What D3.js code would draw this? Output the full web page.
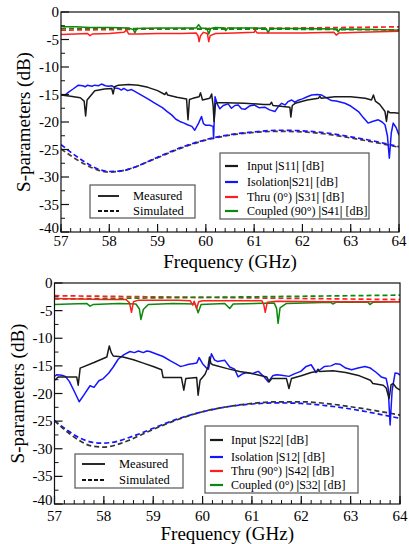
<!DOCTYPE html>
<html>
<head>
<meta charset="utf-8">
<script src="https://cdn.jsdelivr.net/npm/d3@7"></script>
<style>
  body { margin: 0; background: #fff; }
  svg text { font-family: "Liberation Serif", "DejaVu Serif", "Times New Roman", serif; }
</style>
</head>
<body>
<div id="chart"></div>
<script>
// Axis ticks
var freqTicks = [57, 58, 59, 60, 61, 62, 63, 64];
var dbTicks = [0, -5, -10, -15, -20, -25, -30, -35, -40];

// ---- Top panel (port 1 excitation) ----
var topS11Meas = [[57.0,-15.1],[57.2,-15.3],[57.4,-15.6],[57.48,-16.2],[57.51,-18.9],[57.54,-16.0],[57.7,-14.3],[57.9,-14.0],[58.05,-13.9],[58.08,-14.9],[58.11,-13.6],[58.19,-13.3],[58.4,-13.2],[58.6,-13.3],[58.8,-13.7],[59.0,-14.3],[59.15,-15.0],[59.18,-14.6],[59.21,-15.1],[59.4,-15.5],[59.6,-15.8],[59.63,-19.6],[59.66,-15.9],[59.73,-15.7],[59.86,-15.4],[59.89,-14.7],[59.93,-16.0],[60.08,-15.7],[60.12,-14.9],[60.15,-17.0],[60.17,-19.9],[60.2,-16.6],[60.25,-16.5],[60.4,-16.5],[60.8,-16.6],[61.2,-16.8],[61.33,-16.8],[61.36,-16.4],[61.39,-17.0],[61.5,-17.1],[61.74,-17.3],[61.76,-19.1],[61.79,-17.0],[61.85,-16.6],[62.1,-16.0],[62.33,-15.7],[62.36,-15.3],[62.39,-15.7],[62.67,-15.4],[63.0,-15.4],[63.3,-15.7],[63.43,-16.0],[63.47,-15.1],[63.51,-16.2],[63.6,-16.8],[63.71,-18.1],[63.74,-19.9],[63.77,-18.0],[63.81,-18.3],[63.9,-18.3],[64.0,-18.4]];
var topS21Meas = [[57.0,-15.1],[57.1,-15.0],[57.15,-14.6],[57.25,-14.0],[57.36,-13.3],[57.45,-13.4],[57.5,-13.6],[57.55,-13.3],[57.64,-13.5],[57.7,-13.3],[57.78,-13.4],[57.84,-13.1],[57.92,-13.4],[57.98,-13.5],[58.05,-13.4],[58.12,-13.8],[58.19,-13.9],[58.25,-14.2],[58.3,-13.9],[58.38,-14.3],[58.46,-14.1],[58.52,-14.4],[58.6,-14.8],[58.7,-15.3],[58.8,-15.8],[58.95,-16.6],[59.1,-17.4],[59.2,-18.1],[59.29,-18.7],[59.38,-19.5],[59.46,-19.9],[59.55,-20.2],[59.62,-20.5],[59.71,-20.8],[59.77,-21.5],[59.85,-20.2],[59.91,-19.0],[59.95,-20.3],[60.0,-20.6],[60.08,-20.6],[60.15,-20.8],[60.16,-23.0],[60.19,-15.4],[60.24,-16.8],[60.29,-17.6],[60.36,-17.0],[60.46,-16.7],[60.53,-17.5],[60.6,-17.0],[60.67,-16.9],[60.74,-17.6],[60.81,-17.7],[60.9,-17.1],[61.0,-16.9],[61.1,-17.4],[61.22,-17.3],[61.32,-17.8],[61.43,-18.1],[61.5,-17.2],[61.57,-16.6],[61.64,-16.9],[61.7,-16.3],[61.78,-16.0],[61.84,-16.4],[61.9,-16.1],[62.0,-15.8],[62.1,-15.4],[62.19,-15.1],[62.3,-15.0],[62.4,-15.1],[62.5,-15.6],[62.6,-16.1],[62.7,-16.2],[62.88,-16.6],[63.0,-17.1],[63.16,-18.1],[63.26,-19.2],[63.36,-20.2],[63.45,-19.9],[63.57,-19.6],[63.65,-20.0],[63.71,-20.5],[63.76,-22.5],[63.8,-26.6],[63.84,-22.0],[63.88,-20.2],[63.94,-21.0],[64.0,-22.4]];
var topS31Meas = [[57.0,-4.1],[57.3,-4.0],[57.55,-3.9],[57.6,-4.3],[57.65,-4.0],[58.0,-3.9],[58.3,-3.7],[58.36,-3.3],[58.4,-4.0],[58.6,-4.0],[59.0,-3.9],[59.5,-3.9],[59.8,-3.8],[59.84,-4.4],[59.86,-5.4],[59.89,-4.3],[59.95,-3.7],[60.03,-3.9],[60.06,-5.4],[60.09,-4.3],[60.2,-3.9],[60.6,-3.8],[61.0,-3.7],[61.02,-3.3],[61.06,-3.8],[61.5,-3.8],[62.0,-3.8],[62.65,-3.7],[62.7,-4.2],[62.76,-3.8],[63.2,-3.7],[63.6,-3.6],[64.0,-3.5]];
var topS41Meas = [[57.0,-2.5],[57.05,-2.7],[57.3,-2.7],[57.6,-2.8],[58.0,-2.8],[58.4,-2.9],[58.5,-3.2],[58.53,-3.8],[58.57,-3.0],[59.0,-2.9],[59.5,-2.9],[59.8,-2.9],[59.85,-2.3],[59.9,-2.9],[60.02,-3.0],[60.06,-4.0],[60.1,-3.0],[60.2,-2.8],[60.38,-2.9],[60.41,-3.4],[60.45,-2.9],[61.0,-2.9],[61.25,-3.0],[61.29,-3.8],[61.33,-3.0],[62.0,-3.0],[62.7,-3.1],[62.74,-3.6],[62.78,-3.1],[63.5,-3.2],[64.0,-3.3]];
var topS11Sim = [[57,-24.9],[57.25,-26.4],[57.5,-27.7],[57.75,-28.7],[58,-29.1],[58.25,-28.9],[58.5,-28.3],[58.75,-27.4],[59,-26.5],[59.5,-24.7],[60,-23.3],[60.5,-22.4],[61,-21.9],[61.5,-21.7],[62,-21.8],[62.5,-22.2],[63,-22.9],[63.5,-23.7],[64,-24.6]];
var topS21Sim = [[57,-24.1],[57.25,-25.8],[57.5,-27.3],[57.75,-28.5],[58,-29.0],[58.25,-28.9],[58.5,-28.3],[58.75,-27.4],[59,-26.4],[59.5,-24.6],[60,-23.2],[60.5,-22.3],[61,-21.8],[61.5,-21.5],[62,-21.6],[62.5,-22.0],[63,-22.7],[63.5,-23.5],[64,-24.5]];
var topS31Sim = [[57,-3.3],[58,-3.2],[59,-3.1],[60,-3.0],[61,-2.95],[62,-2.9],[63,-2.8],[64,-2.7]];
var topS41Sim = [[57,-3.0],[58,-3.0],[59,-3.05],[60,-3.1],[61,-3.1],[62,-3.15],[63,-3.2],[64,-3.25]];
var topLabels = ["Input |S11| [dB]", "Isolation|S21| [dB]", "Thru (0°) |S31| [dB]", "Coupled (90°) |S41| [dB]"];

// ---- Bottom panel (port 2 excitation) ----
var botS22Meas = [[57.0,-17.6],[57.08,-17.0],[57.3,-17.0],[57.45,-17.0],[57.48,-18.5],[57.52,-15.4],[57.8,-14.4],[58.06,-13.4],[58.11,-11.4],[58.15,-12.6],[58.19,-13.2],[58.39,-13.4],[58.6,-13.9],[58.8,-14.5],[59.0,-15.1],[59.17,-15.7],[59.2,-17.1],[59.4,-17.1],[59.57,-17.1],[59.62,-19.4],[59.66,-17.3],[59.88,-17.1],[59.91,-20.3],[59.95,-17.6],[60.05,-16.5],[60.11,-15.2],[60.14,-13.4],[60.17,-14.6],[60.21,-14.8],[60.5,-15.5],[60.75,-16.0],[61.0,-16.4],[61.3,-17.0],[61.35,-17.9],[61.4,-17.3],[61.7,-17.3],[61.75,-19.1],[61.8,-17.3],[62.0,-16.8],[62.2,-16.2],[62.31,-16.0],[62.34,-15.6],[62.37,-16.0],[62.64,-15.9],[62.9,-16.2],[63.18,-16.8],[63.4,-17.6],[63.45,-18.2],[63.66,-18.5],[63.72,-19.0],[63.78,-20.9],[63.82,-18.4],[63.86,-18.2],[63.93,-19.0],[64.0,-19.4]];
var botS12Meas = [[57.0,-16.9],[57.05,-16.6],[57.15,-16.7],[57.22,-16.9],[57.3,-17.8],[57.4,-19.6],[57.5,-21.5],[57.6,-20.2],[57.72,-18.6],[57.8,-18.9],[57.9,-17.7],[57.99,-17.3],[58.1,-16.3],[58.19,-15.2],[58.29,-13.8],[58.4,-13.0],[58.53,-12.4],[58.62,-12.6],[58.7,-12.3],[58.8,-12.6],[58.87,-12.3],[58.93,-12.4],[59.05,-12.8],[59.2,-13.3],[59.35,-14.1],[59.47,-14.7],[59.55,-15.1],[59.61,-15.0],[59.72,-14.7],[59.8,-14.6],[59.88,-14.5],[59.93,-13.5],[60.0,-14.6],[60.08,-15.4],[60.12,-15.6],[60.18,-12.8],[60.24,-13.9],[60.3,-14.2],[60.45,-14.0],[60.55,-15.2],[60.65,-15.6],[60.72,-17.0],[60.8,-16.5],[60.89,-16.2],[61.0,-16.4],[61.13,-16.0],[61.25,-17.0],[61.33,-17.9],[61.42,-16.8],[61.5,-16.6],[61.6,-16.7],[61.75,-16.9],[61.87,-16.4],[61.99,-16.0],[62.1,-15.1],[62.2,-14.8],[62.3,-16.2],[62.38,-15.7],[62.47,-15.1],[62.6,-15.0],[62.7,-14.6],[62.78,-14.7],[62.9,-15.4],[63.02,-15.7],[63.15,-15.4],[63.29,-15.1],[63.4,-15.4],[63.52,-16.2],[63.62,-17.0],[63.72,-17.3],[63.76,-19.0],[63.8,-25.7],[63.84,-19.5],[63.9,-16.3],[63.96,-16.4],[64.0,-16.7]];
var botS42Meas = [[57.0,-2.8],[57.5,-2.9],[58.0,-3.0],[58.45,-3.0],[58.52,-3.6],[58.56,-5.3],[58.6,-3.4],[58.7,-3.1],[59.5,-3.1],[59.75,-3.2],[59.8,-4.0],[59.83,-3.3],[59.88,-4.6],[59.92,-3.4],[60.0,-3.2],[60.5,-3.2],[61.2,-3.2],[61.24,-3.9],[61.27,-5.3],[61.31,-3.5],[61.5,-3.3],[62.5,-3.4],[63.5,-3.4],[64.0,-3.4]];
var botS32Meas = [[57.0,-3.9],[57.3,-3.8],[57.65,-3.7],[57.72,-4.2],[57.78,-3.9],[58.3,-3.7],[58.65,-3.8],[58.72,-4.7],[58.75,-6.6],[58.8,-4.8],[58.9,-3.9],[59.4,-3.7],[59.85,-3.8],[59.91,-5.4],[59.97,-3.9],[60.45,-3.7],[60.55,-4.6],[60.62,-3.8],[61.45,-3.6],[61.5,-4.6],[61.53,-7.3],[61.57,-4.5],[61.7,-3.7],[62.6,-3.5],[62.64,-3.8],[62.7,-3.5],[63.35,-3.5],[63.39,-3.9],[63.45,-3.5],[64.0,-3.4]];
var botS22Sim = [[57,-24.9],[57.25,-26.9],[57.5,-28.5],[57.75,-29.5],[58,-29.7],[58.25,-29.3],[58.5,-28.5],[58.75,-27.5],[59,-26.5],[59.5,-24.7],[60,-23.3],[60.5,-22.4],[61,-21.8],[61.5,-21.5],[62,-21.5],[62.5,-21.8],[63,-22.4],[63.5,-23.1],[64,-23.9]];
var botS12Sim = [[57,-24.9],[57.25,-26.6],[57.5,-28.0],[57.75,-28.8],[57.95,-29.0],[58.25,-28.7],[58.5,-28.0],[58.75,-27.2],[59,-26.3],[59.5,-24.6],[60,-23.3],[60.5,-22.4],[61,-21.9],[61.5,-21.7],[62,-21.8],[62.5,-22.2],[63,-22.8],[63.5,-23.6],[64,-24.5]];
var botS42Sim = [[57,-2.3],[58,-2.4],[59,-2.5],[60,-2.6],[61,-2.7],[62,-2.8],[63,-2.9],[64,-3.0]];
var botS32Sim = [[57,-2.9],[58,-2.8],[59,-2.7],[60,-2.6],[61,-2.5],[62,-2.4],[63,-2.3],[64,-2.2]];
var botLabels = ["Input |S22| [dB]", "Isolation |S12| [dB]", "Thru (90°) |S42| [dB]", "Coupled (0°) |S32| [dB]"];

var black = "#1a1a1a", blue = "#1414ff", red = "#ff1e1e", green = "#0a8a0a";
var fontFam = "'Liberation Serif', 'DejaVu Serif', 'Times New Roman', serif";

var svg = d3.select("#chart").append("svg")
  .attr("width", 409)
  .attr("height", 544)
  .attr("font-family", fontFam);

var panels = [
  {
    left: 61, right: 399, top: 12, bottom: 232,
    meas: [[topS41Meas, green], [topS31Meas, red], [topS21Meas, blue], [topS11Meas, black]],
    sim: [[topS31Sim, red], [topS41Sim, green], [topS11Sim, "#573631"], [topS21Sim, blue]],
    labels: topLabels,
    legend: { x: 220, y: 153, w: 149, h: 66, rows: [166, 182, 197, 211], lx: 225, tx: 247 },
    msLegend: { x: 90, y: 185, w: 105, h: 33, rows: [196, 211], lx0: 98, lx1: 119, tx: 133 },
    ylabX: 30, xTickY: 246, xTitleY: 268
  },
  {
    left: 54.5, right: 400, top: 283, bottom: 504,
    meas: [[botS32Meas, green], [botS42Meas, red], [botS12Meas, blue], [botS22Meas, black]],
    sim: [[botS42Sim, red], [botS32Sim, green], [botS12Sim, blue], [botS22Sim, "#333"]],
    labels: botLabels,
    legend: { x: 205, y: 426, w: 153, h: 67, rows: [440, 457, 471, 485], lx: 210, tx: 231 },
    msLegend: { x: 75, y: 454, w: 108, h: 34, rows: [464, 480], lx0: 82, lx1: 105, tx: 119 },
    ylabX: 24, xTickY: 521, xTitleY: 540
  }
];

panels.forEach(function(p) {
  var x = d3.scaleLinear().domain([57, 64]).range([p.left, p.right]);
  var y = d3.scaleLinear().domain([-40, 0]).range([p.bottom, p.top]);

  var g = svg.append("g");
  var clipId = "clip" + p.top;
  g.append("clipPath").attr("id", clipId)
    .append("rect")
    .attr("x", p.left).attr("y", p.top)
    .attr("width", p.right - p.left).attr("height", p.bottom - p.top);

  var line = d3.line().x(d => x(d[0])).y(d => y(d[1]));
  var smooth = d3.line().x(d => x(d[0])).y(d => y(d[1])).curve(d3.curveMonotoneX);

  var curves = g.append("g").attr("clip-path", "url(#" + clipId + ")");

  // simulated (dashed)
  p.sim.forEach(function(s) {
    curves.append("path")
      .datum(s[0])
      .attr("d", smooth)
      .attr("fill", "none")
      .attr("stroke", s[1])
      .attr("stroke-width", 1.7)
      .attr("stroke-dasharray", "5,3");
  });

  // measured (solid)
  p.meas.forEach(function(s) {
    curves.append("path")
      .datum(s[0])
      .attr("d", line)
      .attr("fill", "none")
      .attr("stroke", s[1])
      .attr("stroke-width", 1.5)
      .attr("stroke-linejoin", "round");
  });

  // frame
  g.append("rect")
    .attr("x", p.left).attr("y", p.top)
    .attr("width", p.right - p.left).attr("height", p.bottom - p.top)
    .attr("fill", "none").attr("stroke", "#111").attr("stroke-width", 1.2);

  // x axis ticks (inward)
  var xMinor = d3.range(57, 64.001, 0.2);
  g.selectAll(".xmin").data(xMinor).enter().append("line")
    .attr("x1", d => x(d)).attr("x2", d => x(d))
    .attr("y1", p.bottom).attr("y2", p.bottom - 4)
    .attr("stroke", "#111").attr("stroke-width", 1);
  g.selectAll(".xmaj").data(freqTicks).enter().append("line")
    .attr("x1", d => x(d)).attr("x2", d => x(d))
    .attr("y1", p.bottom).attr("y2", p.bottom - 8)
    .attr("stroke", "#111").attr("stroke-width", 1.2);
  g.selectAll(".xlab").data(freqTicks).enter().append("text")
    .attr("x", d => x(d)).attr("y", p.xTickY)
    .attr("text-anchor", "middle")
    .attr("font-size", 15)
    .text(d => d);

  // y axis ticks (inward)
  var yMinor = d3.range(-37.5, 0, 5);
  g.selectAll(".ymin").data(yMinor).enter().append("line")
    .attr("x1", p.left).attr("x2", p.left + 4)
    .attr("y1", d => y(d)).attr("y2", d => y(d))
    .attr("stroke", "#111").attr("stroke-width", 1);
  g.selectAll(".ymaj").data(dbTicks).enter().append("line")
    .attr("x1", p.left).attr("x2", p.left + 8)
    .attr("y1", d => y(d)).attr("y2", d => y(d))
    .attr("stroke", "#111").attr("stroke-width", 1.2);
  g.selectAll(".ylab").data(dbTicks).enter().append("text")
    .attr("x", p.left - 2).attr("y", d => y(d) + (d === -40 ? 1 : 5))
    .attr("text-anchor", "end")
    .attr("font-size", 15)
    .text(d => d);

  // axis titles
  g.append("text")
    .attr("x", (p.left + p.right) / 2).attr("y", p.xTitleY)
    .attr("text-anchor", "middle")
    .attr("font-size", 19)
    .text("Frequency (GHz)");
  g.append("text")
    .attr("transform", "translate(" + p.ylabX + "," + ((p.top + p.bottom) / 2) + ") rotate(-90)")
    .attr("text-anchor", "middle")
    .attr("font-size", 19)
    .text("S-parameters (dB)");

  // series legend
  var L = p.legend;
  g.append("rect")
    .attr("x", L.x).attr("y", L.y).attr("width", L.w).attr("height", L.h)
    .attr("fill", "#fff").attr("stroke", "#555").attr("stroke-width", 1.2);
  var legColors = [black, blue, red, green];
  p.labels.forEach(function(lab, i) {
    g.append("line")
      .attr("x1", L.lx).attr("x2", L.lx + 13)
      .attr("y1", L.rows[i]).attr("y2", L.rows[i])
      .attr("stroke", legColors[i]).attr("stroke-width", 2.2);
    var t = g.append("text")
      .attr("x", L.tx).attr("y", L.rows[i] + 4)
      .attr("font-size", 12);
    lab.split(/(\|)/).forEach(function(part) {
      if (part === "") return;
      var ts = t.append("tspan").text(part);
      if (part === "|") ts.attr("font-weight", "bold");
    });
  });

  // measured / simulated legend
  var M = p.msLegend;
  g.append("rect")
    .attr("x", M.x).attr("y", M.y).attr("width", M.w).attr("height", M.h)
    .attr("fill", "#fff").attr("stroke", "#555").attr("stroke-width", 1.2);
  ["Measured", "Simulated"].forEach(function(lab, i) {
    g.append("line")
      .attr("x1", M.lx0).attr("x2", M.lx1)
      .attr("y1", M.rows[i]).attr("y2", M.rows[i])
      .attr("stroke", "#111").attr("stroke-width", 1.8)
      .attr("stroke-dasharray", i === 1 ? "4,2" : null);
    g.append("text")
      .attr("x", M.tx).attr("y", M.rows[i] + 4)
      .attr("font-size", 12.5)
      .text(lab);
  });
});
</script>
</body>
</html>
